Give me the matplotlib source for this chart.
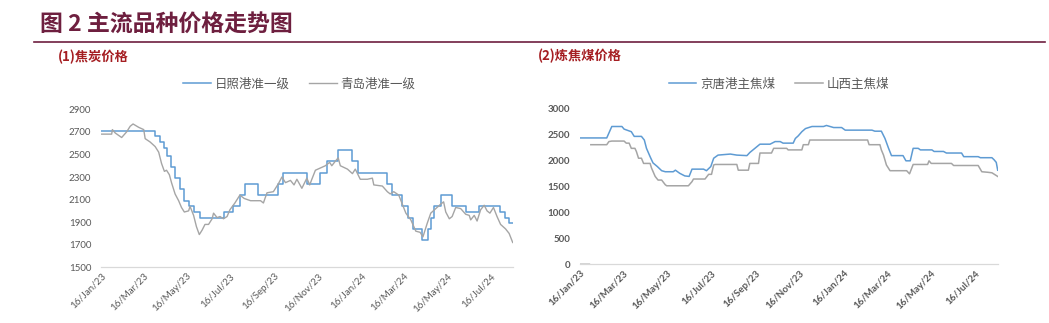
import numpy as np
import pandas as pd
import matplotlib
matplotlib.use("Agg")
import matplotlib.pyplot as plt
import matplotlib.dates as mdates
from matplotlib.lines import Line2D

CJK = ["Noto Sans CJK SC", "DejaVu Sans"]
NUM = ["Lato", "DejaVu Sans"]

# ---------------- data ----------------
# Coke: Rizhao port grade-1 (price adjustment dates and new levels)
coke_rz_dates = ['2023-01-16', '2023-04-02', '2023-04-09', '2023-04-14', '2023-04-18', '2023-04-24',
                 '2023-04-30', '2023-05-07', '2023-05-12', '2023-05-20', '2023-05-27', '2023-06-04',
                 '2023-07-08', '2023-07-21', '2023-07-30', '2023-08-06', '2023-08-24', '2023-09-22',
                 '2023-09-29', '2023-11-01', '2023-11-20', '2023-11-29', '2023-12-15', '2024-01-04',
                 '2024-01-12', '2024-02-21', '2024-02-28', '2024-03-14', '2024-03-22', '2024-03-29',
                 '2024-04-11', '2024-04-19', '2024-04-23', '2024-04-27', '2024-05-07', '2024-05-23',
                 '2024-06-11', '2024-06-29', '2024-07-29', '2024-08-05', '2024-08-11', '2024-08-16']
coke_rz_values = [2710, 2660, 2610, 2560, 2490, 2390, 2290, 2190, 2090, 2040, 1990, 1940,
                  1990, 2040, 2140, 2240, 2140, 2240, 2340, 2240, 2340, 2440, 2540, 2440,
                  2340, 2240, 2140, 2040, 1940, 1840, 1740, 1840, 1940, 2040, 2140, 2040,
                  1990, 2040, 1990, 1940, 1890, 1890]

# Coke: Qingdao port grade-1
coke_qd_dates = ['2023-01-17', '2023-01-31', '2023-02-01', '2023-02-05', '2023-02-14', '2023-02-21',
                 '2023-02-26', '2023-03-02', '2023-03-10', '2023-03-17', '2023-03-19', '2023-03-26',
                 '2023-04-02', '2023-04-07', '2023-04-11', '2023-04-15', '2023-04-18', '2023-04-22',
                 '2023-04-25', '2023-04-30', '2023-05-05', '2023-05-09', '2023-05-13', '2023-05-19',
                 '2023-05-21', '2023-05-26', '2023-05-30', '2023-06-03', '2023-06-07', '2023-06-11',
                 '2023-06-16', '2023-06-21', '2023-06-23', '2023-06-28', '2023-07-02', '2023-07-07',
                 '2023-07-12', '2023-07-16', '2023-07-23', '2023-07-30', '2023-08-05', '2023-08-14',
                 '2023-08-28', '2023-09-01', '2023-09-06', '2023-09-15', '2023-09-22', '2023-09-27',
                 '2023-10-02', '2023-10-09', '2023-10-14', '2023-10-18', '2023-10-25', '2023-11-01',
                 '2023-11-05', '2023-11-08', '2023-11-13', '2023-11-20', '2023-11-27', '2023-12-03',
                 '2023-12-06', '2023-12-11', '2023-12-15', '2023-12-18', '2023-12-28', '2024-01-04',
                 '2024-01-08', '2024-01-15', '2024-01-25', '2024-02-01', '2024-02-03', '2024-02-15',
                 '2024-02-22', '2024-02-26', '2024-03-02', '2024-03-09', '2024-03-14', '2024-03-19',
                 '2024-03-26', '2024-04-02', '2024-04-08', '2024-04-12', '2024-04-18', '2024-04-23',
                 '2024-04-30', '2024-05-07', '2024-05-11', '2024-05-14', '2024-05-19', '2024-05-23',
                 '2024-05-28', '2024-06-04', '2024-06-11', '2024-06-16', '2024-06-18', '2024-06-23',
                 '2024-06-27', '2024-07-02', '2024-07-07', '2024-07-11', '2024-07-15', '2024-07-20',
                 '2024-07-25', '2024-07-30', '2024-08-06', '2024-08-11', '2024-08-16']
coke_qd_values = [2680, 2680, 2720, 2690, 2650, 2700,
                  2750, 2770, 2740, 2720, 2640, 2610,
                  2570, 2520, 2420, 2350, 2360, 2320,
                  2250, 2150, 2090, 2030, 1990, 2000,
                  2040, 1960, 1860, 1790, 1830, 1880,
                  1880, 1930, 1980, 1940, 1950, 1930,
                  1950, 2010, 2070, 2140, 2110, 2090,
                  2090, 2070, 2160, 2170, 2240, 2300,
                  2250, 2270, 2230, 2280, 2200, 2290,
                  2230, 2280, 2360, 2380, 2400, 2430,
                  2400, 2440, 2470, 2400, 2370, 2330,
                  2370, 2280, 2280, 2290, 2230, 2220,
                  2170, 2150, 2170, 2140, 2060, 1980,
                  1920, 1820, 1810, 1770, 1890, 1980,
                  2020, 2060, 2080, 1990, 1930, 1950,
                  2030, 2020, 1970, 1960, 1920, 1960,
                  1910, 2010, 2050, 2000, 1980, 2030,
                  1950, 1880, 1840, 1800, 1720]

# Coking coal: Jingtang port main coking coal
coal_jt_dates = ['2023-01-16', '2023-02-22', '2023-03-01', '2023-03-15', '2023-03-18', '2023-03-28',
                 '2023-04-01', '2023-04-11', '2023-04-15', '2023-04-18', '2023-04-23', '2023-04-27',
                 '2023-05-03', '2023-05-09', '2023-05-14', '2023-05-25', '2023-05-28', '2023-06-03',
                 '2023-06-10', '2023-06-16', '2023-06-20', '2023-07-06', '2023-07-10', '2023-07-16',
                 '2023-07-20', '2023-07-26', '2023-08-12', '2023-08-21', '2023-09-04', '2023-09-08',
                 '2023-09-15', '2023-09-22', '2023-10-06', '2023-10-13', '2023-10-20', '2023-10-24',
                 '2023-11-07', '2023-11-10', '2023-11-14', '2023-11-19', '2023-11-24', '2023-12-03',
                 '2023-12-19', '2023-12-23', '2023-12-28', '2024-01-02', '2024-01-13', '2024-01-18',
                 '2024-02-24', '2024-02-28', '2024-03-08', '2024-03-13', '2024-03-18', '2024-03-22',
                 '2024-04-07', '2024-04-11', '2024-04-17', '2024-04-21', '2024-04-28', '2024-05-01',
                 '2024-05-17', '2024-05-20', '2024-06-02', '2024-06-06', '2024-06-27', '2024-06-30',
                 '2024-07-20', '2024-07-23', '2024-08-08', '2024-08-11', '2024-08-14', '2024-08-16']
coal_jt_values = [2430, 2430, 2650, 2650, 2600, 2550,
                  2460, 2460, 2390, 2230, 2070, 1950,
                  1880, 1800, 1780, 1780, 1810, 1750,
                  1700, 1690, 1830, 1830, 1800, 1880,
                  2040, 2100, 2120, 2100, 2090, 2150,
                  2230, 2310, 2310, 2360, 2360, 2330,
                  2330, 2420, 2470, 2550, 2610, 2650,
                  2650, 2670, 2650, 2630, 2630, 2580,
                  2580, 2560, 2560, 2420, 2230, 2090,
                  2090, 1990, 1990, 2230, 2230, 2200,
                  2200, 2170, 2170, 2140, 2140, 2070,
                  2070, 2050, 2050, 2010, 1960, 1810]

# Coking coal: Shanxi main coking coal (no quotes at the very start of the period)
coal_sx_dates = ['2023-01-16', '2023-01-29', '2023-01-30',
                 '2023-01-31', '2023-02-22', '2023-02-25', '2023-03-01', '2023-03-18', '2023-03-21',
                 '2023-03-25', '2023-03-28', '2023-04-02', '2023-04-04', '2023-04-07', '2023-04-11',
                 '2023-04-14', '2023-04-23', '2023-04-25', '2023-04-30', '2023-05-04', '2023-05-09',
                 '2023-05-14', '2023-05-16', '2023-06-15', '2023-06-20', '2023-06-22', '2023-07-08',
                 '2023-07-13', '2023-07-17', '2023-07-20', '2023-07-22', '2023-08-21', '2023-08-23',
                 '2023-09-06', '2023-09-08', '2023-09-20', '2023-09-22', '2023-10-08', '2023-10-11',
                 '2023-10-29', '2023-10-31', '2023-11-19', '2023-11-21', '2023-11-28', '2023-11-30',
                 '2024-02-18', '2024-02-20', '2024-03-06', '2024-03-08', '2024-03-11', '2024-03-15',
                 '2024-03-20', '2024-04-12', '2024-04-16', '2024-04-21', '2024-05-11', '2024-05-13',
                 '2024-05-16', '2024-06-13', '2024-06-16', '2024-07-20', '2024-07-25', '2024-08-02',
                 '2024-08-08', '2024-08-16']
coal_sx_values = [0, 0, np.nan,
                  2300, 2300, 2360, 2370, 2370, 2330,
                  2330, 2230, 2230, 2170, 2040, 2040,
                  1940, 1940, 1850, 1690, 1620, 1620,
                  1530, 1510, 1510, 1590, 1640, 1640,
                  1730, 1730, 1910, 1920, 1920, 1810,
                  1810, 1940, 1940, 2140, 2140, 2230,
                  2230, 2200, 2200, 2300, 2300, 2390,
                  2390, 2300, 2300, 2200, 2100, 1910,
                  1800, 1800, 1740, 1920, 1920, 1990,
                  1940, 1940, 1900, 1900, 1780, 1770,
                  1760, 1690]

# axis ticks (every two months on the 16th)
tick_dates = ['2023-01-16', '2023-03-16', '2023-05-16', '2023-07-16', '2023-09-16',
              '2023-11-16', '2024-01-16', '2024-03-16', '2024-05-16', '2024-07-16']
coke_yticks = [1500, 1700, 1900, 2100, 2300, 2500, 2700, 2900]
coal_yticks = [0, 500, 1000, 1500, 2000, 2500, 3000]

# ---------------- styling ----------------
BLUE = "#5E9BD3"
GRAY = "#A5A5A5"
MAROON = "#6E1F3F"
RED = "#A51E22"
TXT = "#595959"
AXC = "#D9D9D9"

W, H = 1049, 323
fig = plt.figure(figsize=(W / 100, H / 100), dpi=100)
fig.patch.set_facecolor("white")


def px_axes(x0, x1, ytop, ybot):
    return fig.add_axes([x0 / W, 1 - ybot / H, (x1 - x0) / W, (ybot - ytop) / H])


def style(ax, yticks, ylim, bold):
    for s in ("top", "right", "left"):
        ax.spines[s].set_visible(False)
    ax.spines["bottom"].set_color(AXC)
    ax.spines["bottom"].set_linewidth(0.9)
    ax.set_ylim(*ylim)
    ax.set_yticks(yticks)
    ax.set_xlim(pd.Timestamp('2023-01-16'), pd.Timestamp('2024-08-16'))
    ax.set_xticks(pd.to_datetime(tick_dates))
    ax.xaxis.set_major_formatter(mdates.DateFormatter('%d/%b/%y'))
    ax.tick_params(axis="both", length=0, colors=TXT)
    ax.tick_params(axis="y", pad=7)
    ax.tick_params(axis="x", pad=3)
    w = "bold" if bold else "normal"
    for lab in ax.get_yticklabels():
        lab.set_fontfamily(NUM)
        lab.set_fontsize(7)
        lab.set_fontweight(w)
    for lab in ax.get_xticklabels():
        lab.set_fontfamily(NUM)
        lab.set_fontsize(7)
        lab.set_fontweight(w)
        lab.set_rotation(45)
        lab.set_ha("right")
        lab.set_va("top")
        lab.set_rotation_mode("anchor")


# ---- left panel: coke ----
ax1 = px_axes(101, 512.7, 109.3, 267.3)
l1, = ax1.plot(pd.to_datetime(coke_rz_dates), coke_rz_values, color=BLUE, lw=1.1,
               drawstyle="steps-post", label="日照港准一级")
l2, = ax1.plot(pd.to_datetime(coke_qd_dates), coke_qd_values, color=GRAY, lw=1.0,
               label="青岛港准一级")
style(ax1, coke_yticks, (1500, 2900), bold=False)
ax1.legend(handles=[l1, l2], loc="center", bbox_to_anchor=(0.482, 1.16), ncol=2,
           frameon=False, handlelength=2.2, handletextpad=0.3, columnspacing=1.6,
           prop={"family": CJK, "size": 9}, labelcolor=TXT)

# ---- right panel: coking coal ----
ax2 = px_axes(580, 997.7, 108.3, 264.3)
l3, = ax2.plot(pd.to_datetime(coal_jt_dates), coal_jt_values, color=BLUE, lw=1.1,
               label="京唐港主焦煤")
l4, = ax2.plot(pd.to_datetime(coal_sx_dates), coal_sx_values, color=GRAY, lw=1.1,
               label="山西主焦煤")
style(ax2, coal_yticks, (0, 3000), bold=True)
ax2.legend(handles=[l3, l4], loc="center", bbox_to_anchor=(0.476, 1.156), ncol=2,
           frameon=False, handlelength=2.2, handletextpad=0.3, columnspacing=1.6,
           prop={"family": CJK, "size": 9}, labelcolor=TXT)

# ---- headings ----
fig.text(40 / W, 1 - 25 / H, "图 2 主流品种价格走势图", family=CJK, fontsize=16.5,
         fontweight="bold", color=MAROON, ha="left", va="center")
fig.add_artist(Line2D([34 / W, 1045 / W], [1 - 42 / H, 1 - 42 / H], color=MAROON, lw=1.2))
fig.text(58 / W, 1 - 57 / H, "(1)焦炭价格", family=CJK, fontsize=9.5,
         fontweight="bold", color=RED, ha="left", va="center")
fig.text(538 / W, 1 - 56 / H, "(2)炼焦煤价格", family=CJK, fontsize=9.5,
         fontweight="bold", color=RED, ha="left", va="center")

fig.savefig("out.png", dpi=100, facecolor="white")
